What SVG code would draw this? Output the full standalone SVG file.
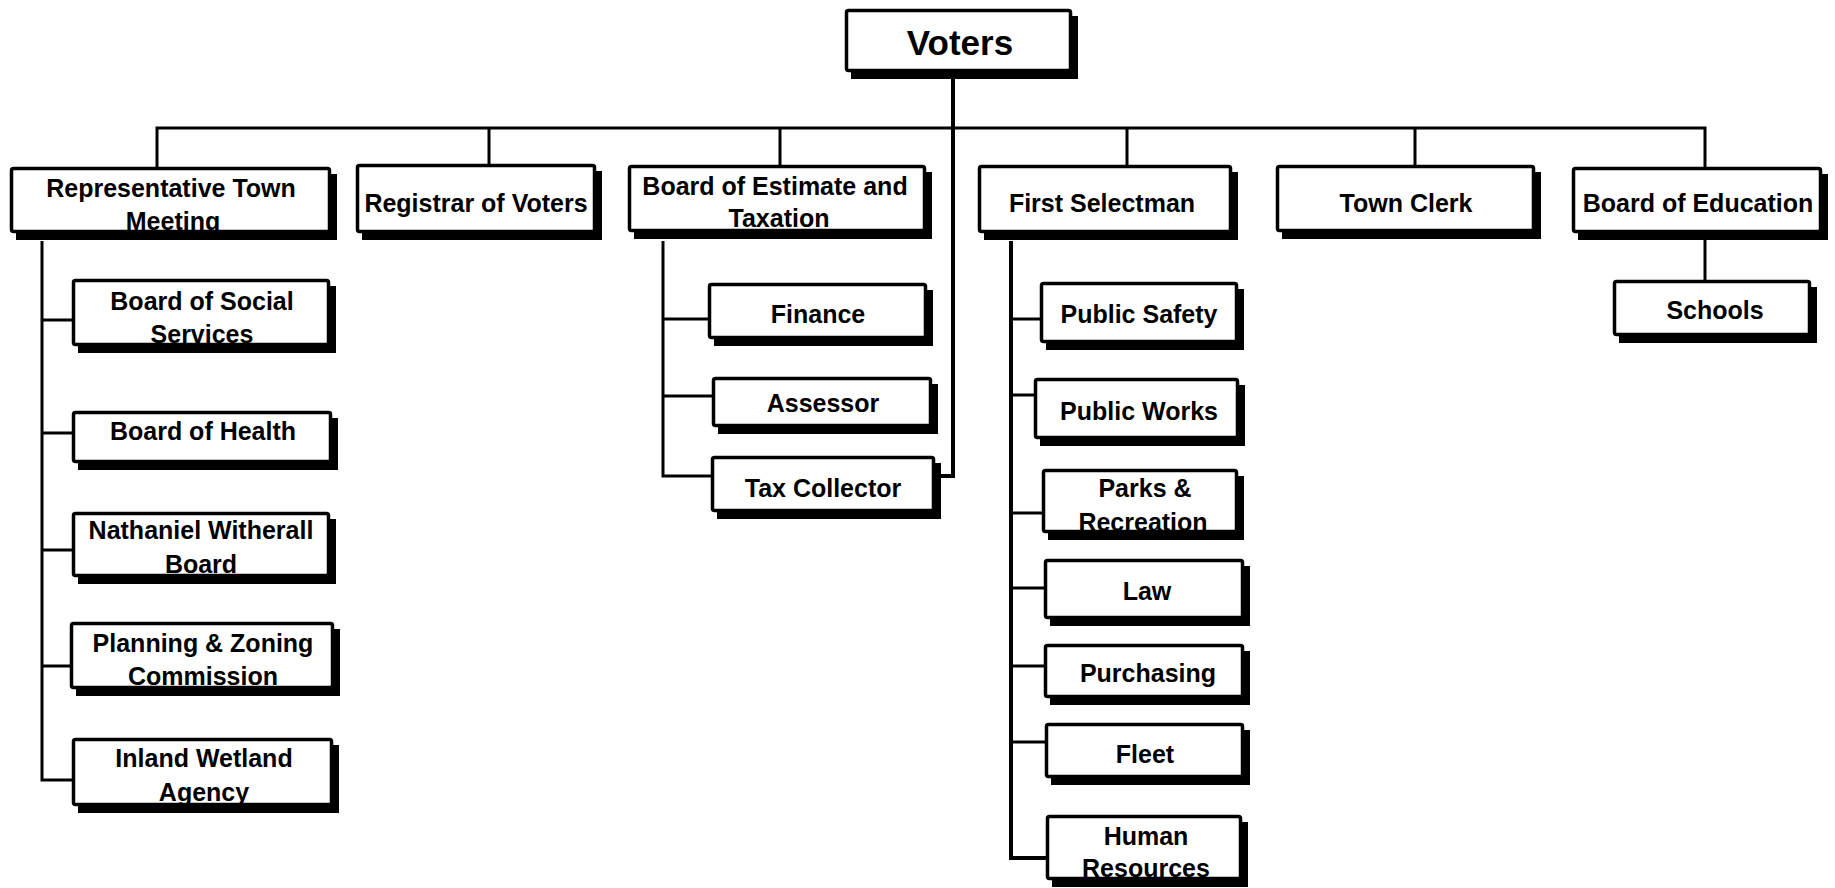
<svg xmlns="http://www.w3.org/2000/svg" width="1835" height="888" viewBox="0 0 1835 888">
  <defs>
    <style>
      .bg { fill: #ffffff; }
      .wire { fill: none; stroke: #000; stroke-width: 3; stroke-linejoin: miter; stroke-linecap: butt; }
      .wire.heavy { stroke-width: 4; }
      .shadow { fill: #000; }
      .fill { fill: #ffffff; }
      .edge { fill: none; stroke: #000; stroke-width: 3.5; }
      text { font-family: "Liberation Sans", Arial, Helvetica, sans-serif; font-weight: bold; font-size: 25px; fill: #000; text-anchor: middle; }
      text.big { font-size: 35px; }
    </style>
  </defs>

  <rect class="bg" x="0" y="0" width="1835" height="888"/>

  <!-- reporting lines -->
  <g id="connectors">
    <path class="wire" d="M157 167 V128 H1705 V167"/>
    <path class="wire heavy" d="M953 72 V476 H935"/>
    <path class="wire" d="M489 128 V164 M780 128 V165 M1127 128 V165 M1415 128 V165"/>
    <path class="wire" d="M42 241 V780 H72 M42 320 H72 M42 433 H72 M42 550 H72 M42 666 H70"/>
    <path class="wire" d="M663 241 V476 H711 M663 319 H708 M663 396 H712"/>
    <path class="wire heavy" d="M1011 241 V858 H1046"/>
    <path class="wire" d="M1011 319 H1040 M1011 395 H1034 M1011 513 H1042 M1011 588 H1044 M1011 666 H1044 M1011 742 H1045"/>
    <path class="wire" d="M1705 240 V280"/>
  </g>

  <!-- top -->
  <g id="voters">
    <rect class="shadow" x="851" y="16" width="227" height="63"/>
    <rect class="fill" x="846.5" y="10.5" width="224" height="60" rx="2"/>
    <text class="big" x="960" y="55">Voters</text>
    <rect class="edge" x="846.5" y="10.5" width="224" height="60" rx="2"/>
  </g>

  <!-- second tier -->
  <g id="rep-town-meeting">
    <rect class="shadow" x="16" y="174" width="321" height="66"/>
    <rect class="fill" x="11.5" y="168.5" width="318" height="63" rx="2"/>
    <text x="171" y="197">Representative Town</text>
    <text x="173" y="230">Meeting</text>
    <rect class="edge" x="11.5" y="168.5" width="318" height="63" rx="2"/>
  </g>

  <g id="registrar">
    <rect class="shadow" x="362" y="171" width="240" height="69"/>
    <rect class="fill" x="357.5" y="165.5" width="237" height="66" rx="2"/>
    <text x="476" y="212">Registrar of Voters</text>
    <rect class="edge" x="357.5" y="165.5" width="237" height="66" rx="2"/>
  </g>

  <g id="estimate-taxation">
    <rect class="shadow" x="634" y="172" width="298" height="67"/>
    <rect class="fill" x="629.5" y="166.5" width="295" height="64" rx="2"/>
    <text x="775" y="195">Board of Estimate and</text>
    <text x="779" y="227">Taxation</text>
    <rect class="edge" x="629.5" y="166.5" width="295" height="64" rx="2"/>
  </g>

  <g id="first-selectman">
    <rect class="shadow" x="984" y="172" width="254" height="68"/>
    <rect class="fill" x="979.5" y="166.5" width="251" height="65" rx="2"/>
    <text x="1102" y="212">First Selectman</text>
    <rect class="edge" x="979.5" y="166.5" width="251" height="65" rx="2"/>
  </g>

  <g id="town-clerk">
    <rect class="shadow" x="1282" y="172" width="259" height="67"/>
    <rect class="fill" x="1277.5" y="166.5" width="256" height="64" rx="2"/>
    <text x="1406" y="212">Town Clerk</text>
    <rect class="edge" x="1277.5" y="166.5" width="256" height="64" rx="2"/>
  </g>

  <g id="board-education">
    <rect class="shadow" x="1578" y="174" width="250" height="66"/>
    <rect class="fill" x="1573.5" y="168.5" width="247" height="63" rx="2"/>
    <text x="1698" y="212">Board of Education</text>
    <rect class="edge" x="1573.5" y="168.5" width="247" height="63" rx="2"/>
  </g>

  <!-- under the town meeting -->
  <g id="social-services">
    <rect class="shadow" x="78" y="286" width="258" height="67"/>
    <rect class="fill" x="73.5" y="280.5" width="255" height="64" rx="2"/>
    <text x="202" y="310">Board of Social</text>
    <text x="202" y="343">Services</text>
    <rect class="edge" x="73.5" y="280.5" width="255" height="64" rx="2"/>
  </g>

  <g id="health">
    <rect class="shadow" x="78" y="418" width="260" height="52"/>
    <rect class="fill" x="73.5" y="412.5" width="257" height="49" rx="2"/>
    <text x="203" y="440">Board of Health</text>
    <rect class="edge" x="73.5" y="412.5" width="257" height="49" rx="2"/>
  </g>

  <g id="witherall">
    <rect class="shadow" x="78" y="519" width="258" height="65"/>
    <rect class="fill" x="73.5" y="513.5" width="255" height="62" rx="2"/>
    <text x="201" y="539">Nathaniel Witherall</text>
    <text x="201" y="573">Board</text>
    <rect class="edge" x="73.5" y="513.5" width="255" height="62" rx="2"/>
  </g>

  <g id="planning-zoning">
    <rect class="shadow" x="76" y="629" width="264" height="67"/>
    <rect class="fill" x="71.5" y="623.5" width="261" height="64" rx="2"/>
    <text x="203" y="652">Planning &amp; Zoning</text>
    <text x="203" y="685">Commission</text>
    <rect class="edge" x="71.5" y="623.5" width="261" height="64" rx="2"/>
  </g>

  <g id="inland-wetland">
    <rect class="shadow" x="78" y="745" width="261" height="68"/>
    <rect class="fill" x="73.5" y="739.5" width="258" height="65" rx="2"/>
    <text x="204" y="767">Inland Wetland</text>
    <text x="204" y="801">Agency</text>
    <rect class="edge" x="73.5" y="739.5" width="258" height="65" rx="2"/>
  </g>

  <!-- under estimate and taxation -->
  <g id="finance">
    <rect class="shadow" x="714" y="290" width="219" height="56"/>
    <rect class="fill" x="709.5" y="284.5" width="216" height="53" rx="2"/>
    <text x="818" y="323">Finance</text>
    <rect class="edge" x="709.5" y="284.5" width="216" height="53" rx="2"/>
  </g>

  <g id="assessor">
    <rect class="shadow" x="718" y="384" width="220" height="50"/>
    <rect class="fill" x="713.5" y="378.5" width="217" height="47" rx="2"/>
    <text x="823" y="412">Assessor</text>
    <rect class="edge" x="713.5" y="378.5" width="217" height="47" rx="2"/>
  </g>

  <g id="tax-collector">
    <rect class="shadow" x="717" y="463" width="224" height="56"/>
    <rect class="fill" x="712.5" y="457.5" width="221" height="53" rx="2"/>
    <text x="823" y="497">Tax Collector</text>
    <rect class="edge" x="712.5" y="457.5" width="221" height="53" rx="2"/>
  </g>

  <!-- under the first selectman -->
  <g id="public-safety">
    <rect class="shadow" x="1046" y="289" width="198" height="61"/>
    <rect class="fill" x="1041.5" y="283.5" width="195" height="58" rx="2"/>
    <text x="1139" y="323">Public Safety</text>
    <rect class="edge" x="1041.5" y="283.5" width="195" height="58" rx="2"/>
  </g>

  <g id="public-works">
    <rect class="shadow" x="1040" y="385" width="205" height="61"/>
    <rect class="fill" x="1035.5" y="379.5" width="202" height="58" rx="2"/>
    <text x="1139" y="420">Public Works</text>
    <rect class="edge" x="1035.5" y="379.5" width="202" height="58" rx="2"/>
  </g>

  <g id="parks-recreation">
    <rect class="shadow" x="1048" y="476" width="196" height="64"/>
    <rect class="fill" x="1043.5" y="470.5" width="193" height="61" rx="2"/>
    <text x="1145" y="497">Parks &amp;</text>
    <text x="1143" y="531">Recreation</text>
    <rect class="edge" x="1043.5" y="470.5" width="193" height="61" rx="2"/>
  </g>

  <g id="law">
    <rect class="shadow" x="1050" y="566" width="200" height="60"/>
    <rect class="fill" x="1045.5" y="560.5" width="197" height="57" rx="2"/>
    <text x="1147" y="600">Law</text>
    <rect class="edge" x="1045.5" y="560.5" width="197" height="57" rx="2"/>
  </g>

  <g id="purchasing">
    <rect class="shadow" x="1050" y="651" width="200" height="54"/>
    <rect class="fill" x="1045.5" y="645.5" width="197" height="51" rx="2"/>
    <text x="1148" y="682">Purchasing</text>
    <rect class="edge" x="1045.5" y="645.5" width="197" height="51" rx="2"/>
  </g>

  <g id="fleet">
    <rect class="shadow" x="1051" y="730" width="199" height="55"/>
    <rect class="fill" x="1046.5" y="724.5" width="196" height="52" rx="2"/>
    <text x="1145" y="763">Fleet</text>
    <rect class="edge" x="1046.5" y="724.5" width="196" height="52" rx="2"/>
  </g>

  <g id="human-resources">
    <rect class="shadow" x="1052" y="822" width="196" height="65"/>
    <rect class="fill" x="1047.5" y="816.5" width="193" height="62" rx="2"/>
    <text x="1146" y="845">Human</text>
    <text x="1146" y="877">Resources</text>
    <rect class="edge" x="1047.5" y="816.5" width="193" height="62" rx="2"/>
  </g>

  <!-- under the board of education -->
  <g id="schools">
    <rect class="shadow" x="1619" y="287" width="198" height="56"/>
    <rect class="fill" x="1614.5" y="281.5" width="195" height="53" rx="2"/>
    <text x="1715" y="319">Schools</text>
    <rect class="edge" x="1614.5" y="281.5" width="195" height="53" rx="2"/>
  </g>
</svg>
